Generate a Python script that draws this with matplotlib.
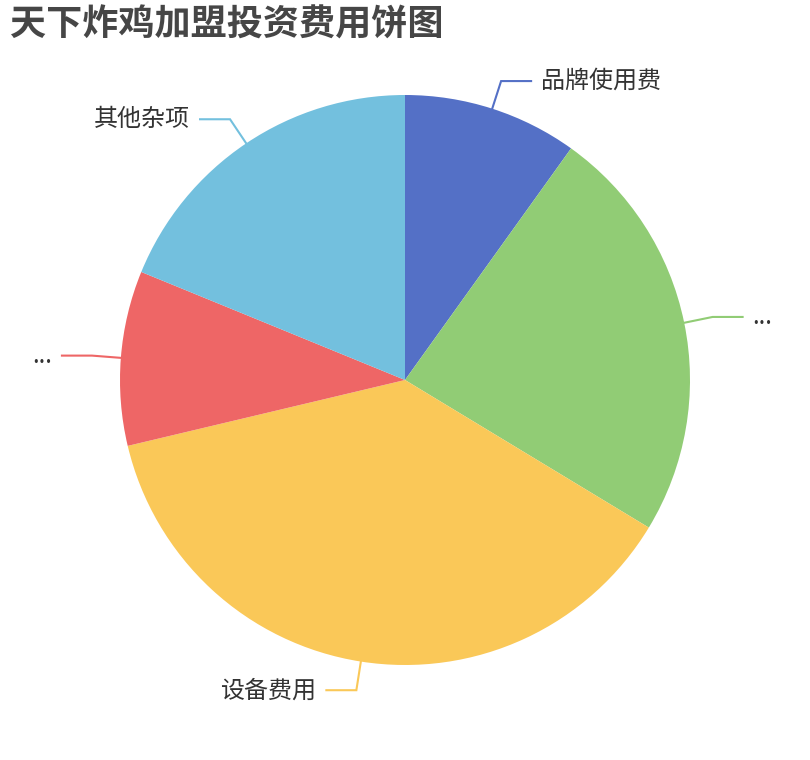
import numpy as np
import matplotlib
matplotlib.use("Agg")
import matplotlib.pyplot as plt

plt.rcParams['font.family'] = ['Noto Sans CJK SC', 'DejaVu Sans']

title = "天下炸鸡加盟投资费用饼图"
labels = ["品牌使用费", "...", "设备费用", "...", "其他杂项"]
values = [10, 24, 38, 10, 19]
colors = ["#5470c6", "#91cc75", "#fac858", "#ee6666", "#73c0de"]

W, H = 810, 760
fig = plt.figure(figsize=(W / 100, H / 100), dpi=100)
ax = fig.add_axes([0, 0, 1, 1])

cx, cy, R = 405, H - 380, 285
wedges, _ = ax.pie(values, colors=colors, startangle=90, counterclock=False,
                   center=(cx, cy), radius=R, frame=True,
                   wedgeprops=dict(linewidth=0))
ax.set_xlim(0, W)
ax.set_ylim(0, H)
ax.set_aspect('equal')
ax.axis('off')

len1, len2, gap = 29, 30, 10
for w, lab, col in zip(wedges, labels, colors):
    mid = np.deg2rad((w.theta1 + w.theta2) / 2)
    ux, uy = np.cos(mid), np.sin(mid)
    x0, y0 = cx + R * ux, cy + R * uy
    x1, y1 = cx + (R + len1) * ux, cy + (R + len1) * uy
    s = 1 if ux >= 0 else -1
    x2 = x1 + s * len2
    ax.plot([x0, x1, x2], [y0, y1, y1], color=col, lw=1.5,
            solid_joinstyle='miter', zorder=3)
    ax.text(x2 + s * gap, y1, lab, ha='left' if s > 0 else 'right',
            va='center', fontsize=17.3, color='#333333')

fig.text(10 / W, 1 - 25 / H, title, fontsize=26, fontweight='bold',
         color='#464646', ha='left', va='center')

fig.savefig("out.png", dpi=100, facecolor='white')
